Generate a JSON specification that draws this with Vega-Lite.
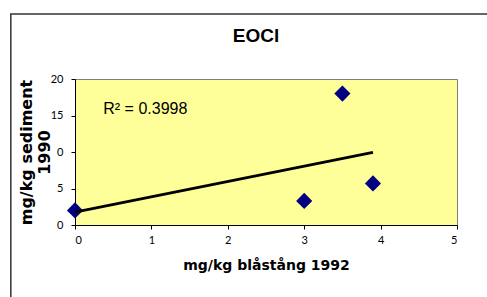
{
  "$schema": "https://vega.github.io/schema/vega-lite/v6.json",
  "width": 382,
  "height": 146,
  "autosize": "none",
  "padding": {"left": 75, "top": 79, "right": 30, "bottom": 72},
  "background": "white",
  "config": {
    "view": {"fill": "#FFFF99", "stroke": "#808080", "strokeWidth": 1},
    "axis": {"grid": false, "domainColor": "#000000", "tickColor": "#000000", "tickSize": 4,
             "labelFont": "Lato", "labelFontSize": 11, "labelColor": "#000000",
             "titleColor": "#000000", "titleFontWeight": "bold"}
  },
  "datasets": {
    "pts": [
      {"x": 0, "y": 2.0},
      {"x": 3.0, "y": 3.3},
      {"x": 3.5, "y": 18.0},
      {"x": 3.9, "y": 5.7}
    ],
    "trend": [
      {"x": 0, "y": 1.75},
      {"x": 3.9, "y": 9.95}
    ],
    "frame": [
      {"x": -0.84, "x2": 7, "y": 28.9, "y2": -20}
    ],
    "note": [
      {"x": 0.37, "y": 15.9, "t": "R² = 0.3998"}
    ],
    "heading": [
      {"x": 2.37, "y": 25.9, "t": "EOCl"}
    ]
  },
  "layer": [
    {
      "data": {"name": "pts"},
      "mark": {"type": "point", "shape": "diamond", "filled": true, "color": "#000080", "size": 260, "opacity": 1, "clip": false},
      "encoding": {
        "x": {"field": "x", "type": "quantitative", "scale": {"domain": [0, 5], "nice": false},
              "axis": {"tickCount": 5, "format": "d", "title": "mg/kg blåstång 1992", "titleFont": "DejaVu Sans", "titleFontSize": 14, "titlePadding": 13, "labelPadding": 5}},
        "y": {"field": "y", "type": "quantitative", "scale": {"domain": [0, 20], "nice": false},
              "axis": {"tickCount": 4, "format": "d", "labelExpr": "datum.value == 10 ? '0' : datum.label", "title": ["mg/kg sediment", "1990"], "titleFont": "DejaVu Sans", "titleFontSize": 16, "titleLineHeight": 18, "titlePadding": -2, "labelPadding": 8}}
      }
    },
    {
      "data": {"name": "frame"},
      "mark": {"type": "rect", "fill": "transparent", "stroke": "#333333", "strokeWidth": 1.5, "clip": false},
      "encoding": {
        "x": {"field": "x", "type": "quantitative"},
        "x2": {"field": "x2"},
        "y": {"field": "y", "type": "quantitative"},
        "y2": {"field": "y2"}
      }
    },
    {
      "data": {"name": "trend"},
      "mark": {"type": "line", "color": "#000000", "strokeWidth": 2.8},
      "encoding": {
        "x": {"field": "x", "type": "quantitative"},
        "y": {"field": "y", "type": "quantitative"}
      }
    },
    {
      "data": {"name": "note"},
      "mark": {"type": "text", "align": "left", "baseline": "middle", "font": "Liberation Sans", "fontSize": 16, "color": "#000000"},
      "encoding": {
        "x": {"field": "x", "type": "quantitative"},
        "y": {"field": "y", "type": "quantitative"},
        "text": {"field": "t"}
      }
    },
    {
      "data": {"name": "heading"},
      "mark": {"type": "text", "align": "center", "baseline": "middle", "font": "Liberation Sans", "fontSize": 19, "fontWeight": "bold", "color": "#000000", "clip": false},
      "encoding": {
        "x": {"field": "x", "type": "quantitative"},
        "y": {"field": "y", "type": "quantitative"},
        "text": {"field": "t"}
      }
    }
  ]
}
